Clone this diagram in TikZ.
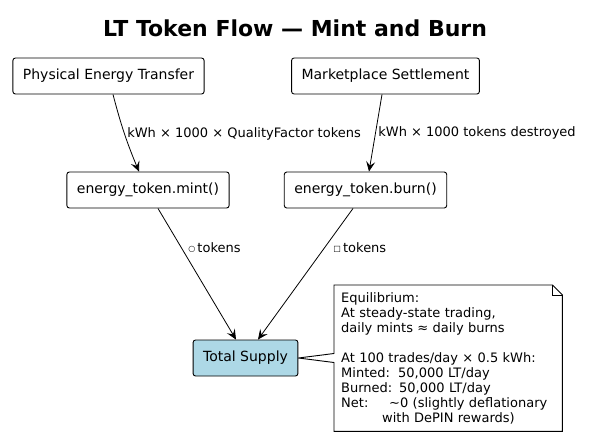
\documentclass[tikz,border=0pt]{standalone}
\usepackage{fontspec}
\setmainfont{DejaVu Sans}
\usepackage{tikz}
\usepackage{xcolor}
\usetikzlibrary{positioning}
\usetikzlibrary{arrows.meta}
\usetikzlibrary{calc}
\usetikzlibrary{backgrounds}
\definecolor{supply}{HTML}{ADD8E6}
\tikzset{
  % A plain step in the flow
  flowbox/.style={
    draw=black, fill=white, rounded corners=2.5pt, line width=0.9pt, align=center,
    font=\fontsize{14}{17}\selectfont, inner xsep=10pt, minimum height=36pt},
  % The pool that both flows end in
  pool/.style={flowbox, fill=supply},
  % A note with a folded corner (outline drawn by hand)
  notetext/.style={
    draw=none, align=left, font=\fontsize{13}{15}\selectfont,
    inner xsep=7pt, inner ysep=5pt, text width=214pt, minimum height=146pt,
    anchor=north west},
  notebox/.style={draw=black, fill=white, line width=0.9pt},
  % Relationships
  flow/.style={-{Stealth[length=10pt, width=9pt, inset=4pt]}, draw=black, line width=0.8pt},
  lbl/.style={font=\fontsize{13}{15}\selectfont, inner sep=1.5pt, anchor=west},
}
\newcommand{\tokmark}[1]{\raisebox{1.2pt}{\fontsize{8}{8}\selectfont #1}}

\begin{document}
\begin{tikzpicture}[x=1pt, y=-1pt]

\useasboundingbox (0,0) rectangle (590,445);

\node[font=\fontsize{22}{26}\selectfont\bfseries] (title) at (295,28) {LT Token Flow — Mint and Burn};

\node[flowbox] (energy) at (108.5,76) {Physical Energy Transfer};
\node[flowbox] (market) at (385.5,76) {Marketplace Settlement};
\node[flowbox] (mint) at (148,190) {energy\_token.mint()};
\node[flowbox] (burn) at (365.5,190) {energy\_token.burn()};
\node[pool] (total) at (245.5,358) {Total Supply};

\node[notetext] (note) at (334,285) {
  Equilibrium:\\
  At steady-state trading,\\
  daily mints ≈ daily burns\\[15pt]
  At 100 trades/day × 0.5 kWh:\\
  \makebox[57pt][l]{Minted:}50,000 LT/day\\
  \makebox[58pt][l]{Burned:}50,000 LT/day\\
  \makebox[48pt][l]{Net:}\textasciitilde0 (slightly deflationary\\
  \hspace*{41pt}with DePIN rewards)
};

% page fill and the note outline with its pointer to the supply box
\begin{scope}[on background layer]
  \fill[white] (0,0) rectangle (590,445);
  \draw[notebox] (note.north west) -- ([xshift=-10pt]note.north east)
    -- ([yshift=-10pt]note.north east) -- (note.south east) -- (note.south west)
    -- ([yshift=-4.5pt]note.west |- total.east) -- (total.east)
    -- ([yshift=4.5pt]note.west |- total.east) -- cycle;
  \draw[notebox, fill=none] ([xshift=-10pt]note.north east)
    -- ([xshift=-10pt, yshift=-10pt]note.north east) -- ([yshift=-10pt]note.north east);
\end{scope}

\draw[flow] ([xshift=4.5pt]energy.south) to[bend right=4]
  node[lbl, pos=0.5, xshift=1pt] {kWh × 1000 × QualityFactor tokens} ([xshift=-9pt]mint.north);
\draw[flow] ([xshift=-3.5pt]market.south) --
  node[lbl, pos=0.5, xshift=1pt] {kWh × 1000 tokens destroyed} ([xshift=3.5pt]burn.north);
\draw[flow] ([xshift=10pt]mint.south) --
  node[lbl, pos=0.3, xshift=5pt] {\tokmark{○}\,tokens} ([xshift=-9.5pt]total.north);
\draw[flow] ([xshift=-12.5pt]burn.south) --
  node[lbl, pos=0.3, xshift=7pt] {\tokmark{□}\,tokens} ([xshift=12.5pt]total.north);

\end{tikzpicture}
\end{document}
